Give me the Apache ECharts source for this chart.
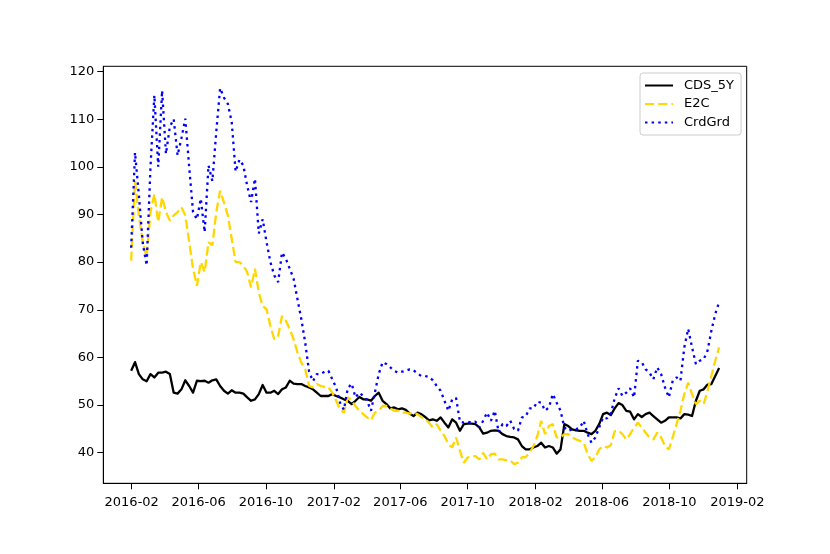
<!DOCTYPE html>
<html>
<head>
<meta charset="utf-8">
<script src="https://cdn.jsdelivr.net/npm/echarts@6/dist/echarts.min.js"></script>
<style>
html,body{margin:0;padding:0;background:#fff;}
#chart{width:830px;height:554px;}
</style>
</head>
<body>
<div id="chart"></div>
<script>
// weekly observations, first week
const startDate = '2016-01-31';
const seriesNames = ['CDS_5Y', 'E2C', 'CrdGrd'];

const cds5y = [57.2,59,56.5,55.4,55,56.5,55.8,56.8,56.8,57,56.5,52.6,52.4,53.3,55.2,54,52.6,55.1,55,55.1,
54.7,55.2,55.4,54,53,52.4,53.1,52.6,52.6,52.4,51.6,50.9,51.2,52.3,54.2,52.6,52.6,53,52.3,53.3,
53.7,55.1,54.5,54.4,54.4,54,53.7,53.3,52.6,51.9,51.9,51.9,52.3,51.9,51.6,51.2,50.9,50.2,50.9,51.7,
51.2,51.2,50.9,51.9,52.6,50.9,50.2,49.3,49.5,49.1,49.3,49,48.2,47.7,48.4,48.1,47.5,46.8,47,46.7,
47.4,46.3,45.3,47,46.3,44.6,46,46.1,46.1,46,45.3,44,44.2,44.6,44.7,44.6,43.9,43.5,43.3,43.2,
42.8,41.4,40.7,40.7,41.1,41.4,42.1,41.1,41.4,41.1,39.8,40.7,46,45.6,44.9,44.7,44.6,44.6,44.2,43.9,
44.6,46,48.1,48.4,47.9,49.3,50.4,50,48.8,48.6,47,48.1,47.5,48.1,48.4,47.7,47,46.3,46.7,47.4,
47.4,47.4,47.2,48.1,48,47.7,50.9,53,53.3,54.3,54.4,56.1,57.8];

const e2c = [80.3,97,89.8,84.2,81,90.5,94.3,88.4,93.6,90.5,88.7,89.8,90.5,91.5,89.8,84.2,78.6,75,80,77.9,
84.2,83.5,90.5,95,92.5,89.8,84.9,80,80,79.3,77.9,74.7,78.6,73.6,70.8,70.1,66.6,63.8,64.5,68.7,
67.7,65.9,63.8,61,58.9,57.5,54,53.7,54.4,54,53.8,53.7,52.6,50.9,49.1,48.4,51.6,50.9,49.8,48.8,
48.1,47.4,46.8,48.4,48.8,49.8,49.8,49.3,48.8,48.8,48.4,48.4,48.2,48.4,48.1,47.5,47,46.3,45.3,46,
44.6,43.5,41.8,41.1,43.2,40.4,37.9,39,39.3,39.3,38.6,40,38.6,39.7,39.8,38.6,38.6,38.4,38.4,37.6,
37.9,39,39.1,40,41.4,43.5,46.7,43.9,45.6,46,43.2,43.2,43.9,43.9,43.2,42.8,42.5,42.1,39.7,38.3,
39,40.7,41.4,41.1,41.6,44.5,44.6,43.9,42.8,43.9,45.3,46.3,45.3,44.2,43.2,42.8,44.2,43.2,41.4,40.7,
43.2,46,48.8,52.3,54.7,52.3,50.2,50.9,50.2,53,56.1,59.3,62.1];

const crdGrd = [83,103,94,84,79.3,100,115,100,116,102.7,108.4,110,102.4,106,110.1,100,90.5,89,93.3,86.3,
100.3,97,107.3,116.5,114.5,113.2,109.4,99,101.5,100.3,96,92.6,97.5,86,89,84.2,80,77.2,75.8,82,
80.7,78.6,76.5,72.2,68,63.1,57,55,56.5,56.5,57,57.2,55.4,53.7,50.5,49,53.5,54.5,51.6,52.6,
51.9,50.9,48.8,52.6,56.5,59,58.6,57.9,57.2,56.8,57,57.2,57.5,57.3,56.6,56.1,56.1,55.9,55.2,54,
53,50.9,48.8,51.2,51.5,46.5,46.3,46.5,46.3,46.5,45.3,46.7,48.4,46.7,48.8,44.3,46,45.6,46.7,45,
44.6,47.4,47.6,49.3,49.3,50.7,50.5,48.8,49.5,52.3,50.5,48.8,45.3,44.6,44.9,44.9,45.3,46.7,43.9,42.1,
43.2,45.3,47.4,47.2,48.2,51.4,53.5,51.9,52.6,53.5,51.6,59.3,59,57.5,56.8,55.4,57.9,56.5,53.7,51.6,
55.1,55.8,55.1,62.1,66,62.1,58.6,59.3,59.6,61.4,65.6,69.1,71.6];

const xTickLabels = ['2016-02','2016-06','2016-10','2017-02','2017-06','2017-10','2018-02','2018-06','2018-10','2019-02'];
const yTicks = [40,50,60,70,80,90,100,110,120];

const DAY = 86400000;
const t0 = Date.parse(startDate + 'T00:00:00Z');
const dates = cds5y.map((_, i) => t0 + i * 7 * DAY);
const xTicks = xTickLabels.map(s => Date.parse(s + '-01T00:00:00Z'));

const refTick = xTicks[0];
const xMin = refTick - 51.4 * DAY;
const xMax = xMin + 1164.3 * DAY;

const pair = arr => arr.map((v, i) => [dates[i], v]);

const FONT = 'DejaVu Sans';
const LW = 2.3;
const chart = echarts.init(document.getElementById('chart'), null, {renderer: 'canvas'});
chart.setOption({
  animation: false,
  backgroundColor: '#ffffff',
  grid: {left: 103.3, right: 83.3, top: 66.3, bottom: 70.7, show: true, borderColor: '#000', borderWidth: 1, backgroundColor: 'transparent'},
  legend: {
    data: seriesNames,
    orient: 'vertical',
    left: 640,
    top: 73,
    padding: [6, 7, 6, 4],
    itemWidth: 28,
    itemHeight: 14,
    itemGap: 5.5,
    backgroundColor: 'rgba(255,255,255,0.8)',
    borderColor: '#cccccc',
    borderWidth: 1,
    borderRadius: 3,
    itemStyle: {opacity: 0, color: 'transparent', borderWidth: 0},
    textStyle: {fontFamily: FONT, fontSize: 13, color: '#000', padding: [0, 0, 0, 6]}
  },
  xAxis: {
    type: 'value',
    min: xMin,
    max: xMax,
    axisLine: {show: true, lineStyle: {color: '#000', width: 1}},
    axisTick: {show: true, length: 6, lineStyle: {color: '#000', width: 1}, customValues: xTicks},
    axisLabel: {
      customValues: xTicks,
      margin: 13,
      color: '#000',
      fontFamily: FONT,
      fontSize: 13,
      formatter: v => { const i = xTicks.indexOf(v); return i >= 0 ? xTickLabels[i] : new Date(v).toISOString().slice(0, 7); }
    },
    splitLine: {show: false}
  },
  yAxis: {
    type: 'value',
    min: 33.58,
    max: 121.09,
    axisLine: {show: true, lineStyle: {color: '#000', width: 1}},
    axisTick: {show: true, length: 6, lineStyle: {color: '#000', width: 1}, customValues: yTicks},
    axisLabel: {customValues: yTicks, margin: 9, color: '#000', fontFamily: FONT, fontSize: 13},
    splitLine: {show: false}
  },
  series: [
    {name: 'CDS_5Y', type: 'line', data: pair(cds5y), symbol: 'none', showSymbol: false,
     lineStyle: {color: '#000000', width: LW, type: 'solid', join: 'round'}, itemStyle: {color: '#000000'}},
    {name: 'E2C', type: 'line', data: pair(e2c), symbol: 'none', showSymbol: false,
     lineStyle: {color: '#FFD700', width: LW, type: [9.2, 4.0], cap: 'butt'}, itemStyle: {color: '#FFD700'}},
    {name: 'CrdGrd', type: 'line', data: pair(crdGrd), symbol: 'none', showSymbol: false,
     lineStyle: {color: '#0000FF', width: LW, type: [2.5, 4.1], cap: 'butt'}, itemStyle: {color: '#0000FF'}}
  ]
});
</script>
</body>
</html>
